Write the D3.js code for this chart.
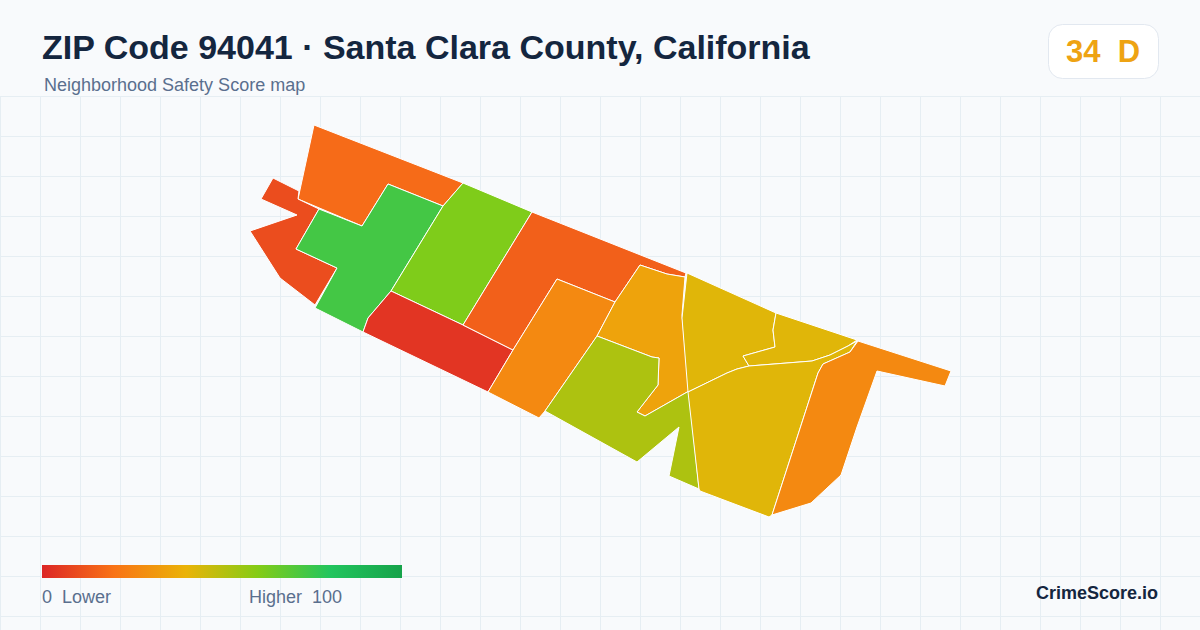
<!DOCTYPE html>
<html>

<head>
    <title>ZIP Code 94041</title>
    <meta charset="UTF-8" />
    <script src="https://d3js.org/d3.v7.min.js"></script>
    <style>
        html, body { margin: 0; padding: 0; background: #f8fafc; }
        svg { display: block; }
        text { font-family: "Liberation Sans", Arial, sans-serif; white-space: pre; }
    </style>
</head>

<body>
    <div id="chart"></div>
    <script>
        const title = "ZIP Code 94041 · Santa Clara County, California";
        const subtitle = "Neighborhood Safety Score map";
        const overallScore = 34;
        const overallGrade = "D";
        const brand = "CrimeScore.io";

        // score of each tract, same order as tractRings
        const tractScores = [18, 10, 73, 61, 4, 15, 27, 35, 52, 42, 42, 42, 27];

        // tract outlines, in a local east / north grid
        const tractRings = [
            [[74,405],[223,347],[203,324],[148,346],[122,304],[58,331]],
            [[33,352],[59,339],[58,331],[79,321],[56,281],[97,262],[75,225],[40,252],[10,299],[57,315],[21,331]],
            [[79,321],[122,304],[148,346],[203,324],[151,239],[128,212],[123,198],[75,222],[97,262],[56,281]],
            [[223,347],[292,318],[223,205],[151,239],[203,324]],
            [[151,239],[223,205],[273,180],[248,138],[123,198],[128,212]],
            [[292,318],[446,257],[445,253],[427,256],[400,265],[375,228],[317,251],[273,180],[223,205]],
            [[317,251],[375,228],[357,194],[305,119],[299,112],[248,138],[273,180]],
            [[400,265],[427,256],[445,253],[442,215],[449,139],[405,114],[397,118],[418,145],[419,172],[412,173],[357,194],[375,228]],
            [[357,194],[412,173],[419,172],[418,145],[397,118],[405,114],[449,139],[459,41],[429,54],[439,103],[397,68],[305,119]],
            [[447,257],[536,217],[533,200],[535,183],[503,174],[509,164],[497,161],[487,157],[448,138],[442,212]],
            [[536,217],[617,190],[608,184],[590,175],[572,169],[509,164],[503,174],[535,183],[533,200]],
            [[448,138],[487,157],[497,161],[509,164],[572,169],[590,175],[608,184],[617,189],[610,178],[583,166],[578,157],[532,15],[529,13],[460,39],[459,41]],
            [[618,189],[711,159],[705,144],[637,159],[617,103],[601,55],[571,27],[532,15],[578,157],[583,166],[610,178]]
        ];

        // color ramp
        const rampStops = [0, 20, 40, 60, 80, 100];
        const rampColors = ["#dc2626", "#f97316", "#eab308", "#84cc16", "#22c55e", "#16a34a"];

        const width = 1200,
            height = 630;

        const svg = d3.select("#chart")
            .append("svg")
            .attr("width", width)
            .attr("height", height);

        const color = d3.scaleLinear().domain(rampStops).range(rampColors);
        const x = d3.scaleLinear().domain([0, 720]).range([240, 960]);
        const y = d3.scaleLinear().domain([0, 420]).range([530, 110]);

        // background grid
        const gridColor = "#e6eef3";
        svg.append("g").selectAll("line")
            .data(d3.range(0.5, width, 40))
            .enter().append("line")
            .attr("x1", d => d).attr("x2", d => d)
            .attr("y1", 96).attr("y2", height)
            .attr("stroke", gridColor);
        svg.append("g").selectAll("line")
            .data(d3.range(96.5, height, 40))
            .enter().append("line")
            .attr("x1", 0).attr("x2", width)
            .attr("y1", d => d).attr("y2", d => d)
            .attr("stroke", gridColor);

        // tracts
        const line = d3.line().x(d => x(d[0])).y(d => y(d[1])).curve(d3.curveLinearClosed);
        svg.append("g").selectAll("path")
            .data(tractRings)
            .enter().append("path")
            .attr("d", line)
            .attr("fill", (d, i) => color(tractScores[i]))
            .attr("stroke", "#ffffff")
            .attr("stroke-width", 1)
            .attr("stroke-linejoin", "round");

        // header
        svg.append("text").attr("x", 42).attr("y", 59)
            .attr("font-size", 34).attr("font-weight", 700).attr("fill", "#14263f")
            .text(title);
        svg.append("text").attr("x", 44).attr("y", 91)
            .attr("font-size", 18).attr("fill", "#5a6f8e")
            .text(subtitle);

        // score badge
        svg.append("rect")
            .attr("x", 1048.5).attr("y", 24.5).attr("width", 110).attr("height", 54).attr("rx", 14)
            .attr("fill", "#ffffff").attr("stroke", "#e2e8f0");
        svg.append("text").attr("x", 1103).attr("y", 62)
            .attr("text-anchor", "middle")
            .attr("font-size", 31).attr("font-weight", 700).attr("fill", "#eea313")
            .text(overallScore + "  " + overallGrade);

        // legend
        const legendX = d3.scaleLinear().domain([0, 100]).range([42, 402]);
        const gradient = svg.append("defs").append("linearGradient").attr("id", "ramp");
        gradient.selectAll("stop")
            .data(rampStops)
            .enter().append("stop")
            .attr("offset", d => d + "%")
            .attr("stop-color", d => color(d));
        svg.append("rect")
            .attr("x", legendX(0)).attr("y", 565)
            .attr("width", legendX(100) - legendX(0)).attr("height", 13)
            .attr("fill", "url(#ramp)");
        svg.append("text").attr("x", 42).attr("y", 603)
            .attr("font-size", 18).attr("fill", "#5a6f8e")
            .text("0  Lower");
        svg.append("text").attr("x", 342).attr("y", 603)
            .attr("text-anchor", "end")
            .attr("font-size", 18).attr("fill", "#5a6f8e")
            .text("Higher  100");

        svg.append("text").attr("x", 1158).attr("y", 599)
            .attr("text-anchor", "end")
            .attr("font-size", 18).attr("font-weight", 700).attr("fill", "#14263f")
            .text(brand);
    </script>
</body>

</html>
